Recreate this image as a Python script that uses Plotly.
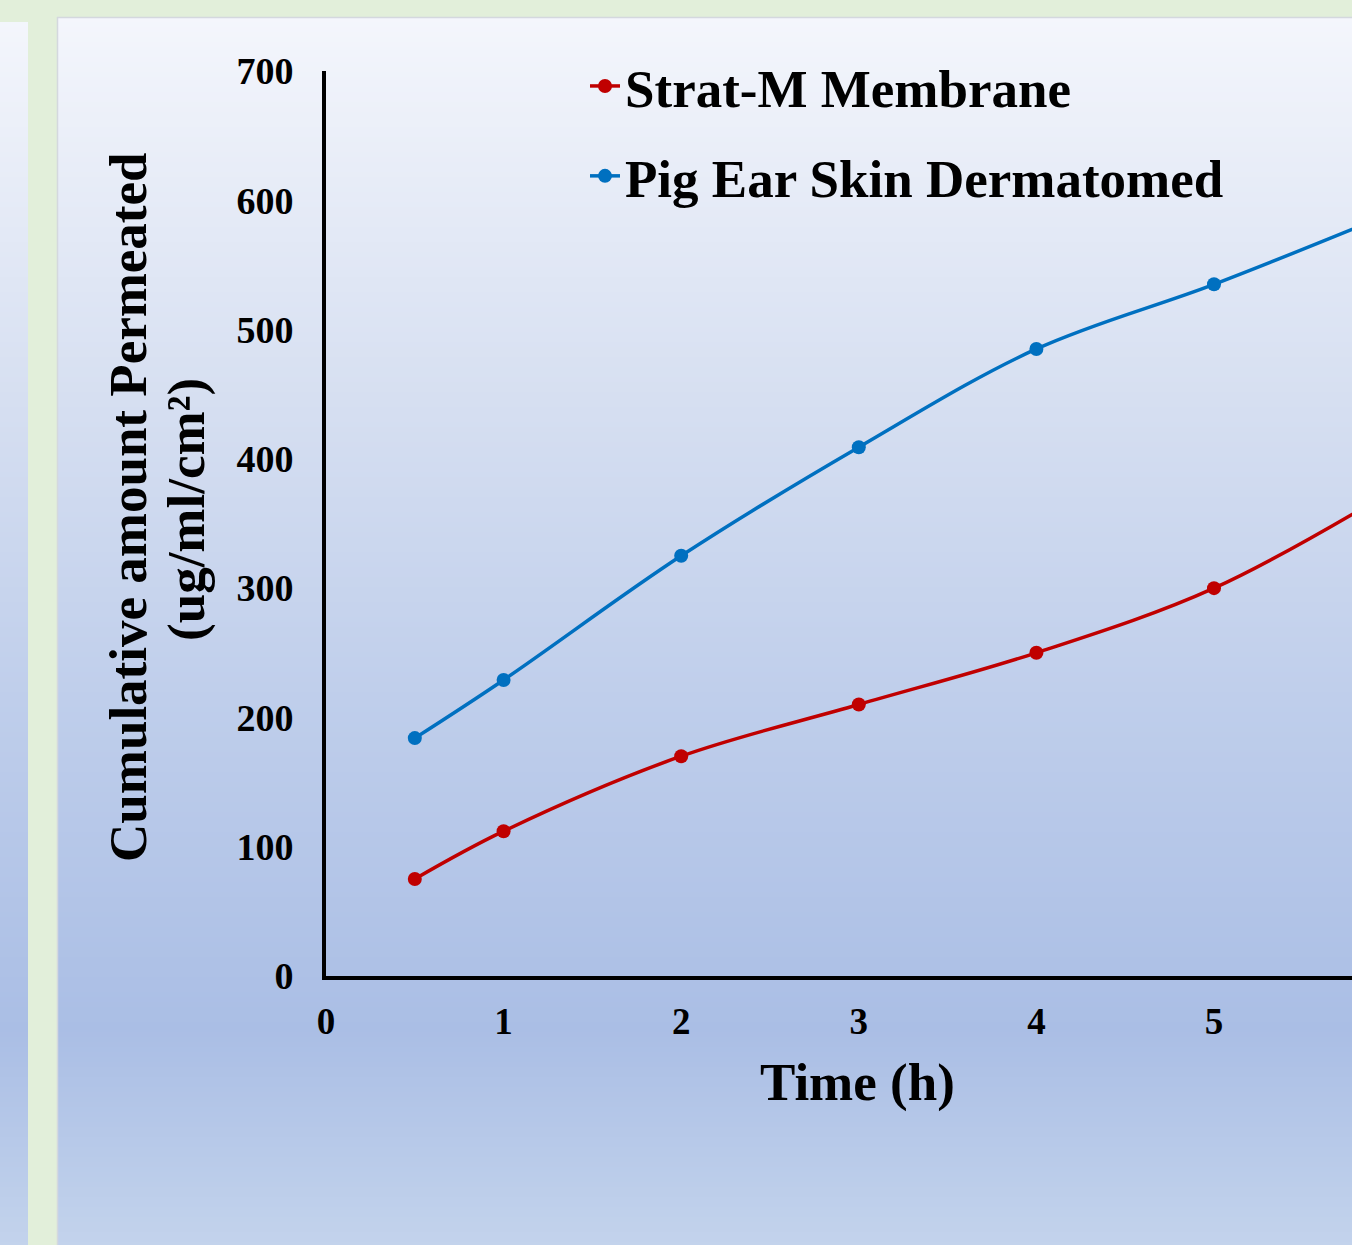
import plotly.graph_objects as go

# ---- data ----
time_h = [0.5, 1, 2, 3, 4, 5, 6]
strat_m = [75, 112, 170, 210, 250, 300, 375]
pig_ear = [184, 229, 325, 409, 485, 535, 590]
series_names = ["Strat-M Membrane", "Pig Ear Skin Dermatomed"]
x_ticks = [0, 1, 2, 3, 4, 5]
y_ticks = [0, 100, 200, 300, 400, 500, 600, 700]

W, H = 1352, 1245
L, R, T, B = 326, 0, 71, 269
PW, PH = W - L - R, H - T - B


def px(x):
    return (x - L) / PW


def py(y):
    return (H - B - y) / PH


def hex2rgb(h):
    h = h.lstrip("#")
    return [int(h[i:i + 2], 16) for i in (0, 2, 4)]


stops = [(17, "#F4F6FC"), (400, "#D6DFF1"), (700, "#BFCEEB"), (1030, "#AABEE5"), (1245, "#C3D3EC")]


def color_at(y):
    for (y0, c0), (y1, c1) in zip(stops[:-1], stops[1:]):
        if y0 <= y <= y1:
            t = (y - y0) / (y1 - y0)
            a, b = hex2rgb(c0), hex2rgb(c1)
            return "rgb(%d,%d,%d)" % tuple(round(a[i] + (b[i] - a[i]) * t) for i in range(3))
    return stops[-1][1] if y > stops[-1][0] else stops[0][1]


shapes = []
step = 5
y = 17
while y < H:
    shapes.append(dict(type="rect", xref="paper", yref="paper", layer="below",
                       x0=px(0), x1=px(W), y0=py(y), y1=py(min(y + step, H) + 1),
                       fillcolor=color_at(y + step / 2), line=dict(width=0)))
    y += step

green = "#E2EFDA"
shapes += [
    dict(type="rect", xref="paper", yref="paper", layer="below", x0=px(28), x1=px(57),
         y0=py(0), y1=py(H), fillcolor=green, line=dict(width=0)),
    dict(type="rect", xref="paper", yref="paper", layer="below", x0=px(0), x1=px(W),
         y0=py(0), y1=py(17), fillcolor=green, line=dict(width=0)),
    dict(type="rect", xref="paper", yref="paper", layer="below", x0=px(0), x1=px(28),
         y0=py(0), y1=py(22), fillcolor=green, line=dict(width=0)),
    dict(type="line", xref="paper", yref="paper", layer="below", x0=px(57.5), x1=px(57.5),
         y0=py(17), y1=py(H), line=dict(color="#D4D8DE", width=1.5)),
    dict(type="line", xref="paper", yref="paper", layer="below", x0=px(57), x1=px(W),
         y0=py(17.5), y1=py(17.5), line=dict(color="#D4D8DE", width=1.5)),
]

font_family = "Liberation Serif, Times New Roman, serif"

fig = go.Figure()
fig.add_trace(go.Scatter(x=time_h, y=strat_m, name=series_names[0], mode="lines+markers",
                         line=dict(color="#C00000", width=3.5, shape="spline", smoothing=1),
                         marker=dict(size=14, color="#C00000"), legendgroup="a"))
fig.add_trace(go.Scatter(x=time_h, y=pig_ear, name=series_names[1], mode="lines+markers",
                         line=dict(color="#0070C0", width=3.5, shape="spline", smoothing=1),
                         marker=dict(size=14, color="#0070C0"), legendgroup="b"))

fig.update_layout(
    width=W, height=H,
    margin=dict(l=L, r=R, t=T, b=B, pad=0),
    paper_bgcolor=green,
    plot_bgcolor="rgba(0,0,0,0)",
    shapes=shapes,
    font=dict(family=font_family, color="black"),
    showlegend=True,
    legend=dict(x=px(585), y=py(45), xanchor="left", yanchor="top",
                bgcolor="rgba(0,0,0,0)", traceorder="grouped", tracegroupgap=18,
                font=dict(size=53, family=font_family, weight="bold"), itemwidth=30),
    xaxis=dict(range=[0, (W - L) / 177.6], tickvals=x_ticks, ticktext=[str(v) for v in x_ticks],
               showgrid=False, zeroline=False, showline=True, linecolor="black", linewidth=4,
               ticks="", ticklabelstandoff=10,
               tickfont=dict(size=37, family=font_family, weight="bold")),
    yaxis=dict(range=[0, 700], tickvals=y_ticks, ticktext=[str(v) for v in y_ticks],
               showgrid=False, zeroline=False, showline=True, linecolor="black", linewidth=4,
               ticks="", ticklabelstandoff=21,
               tickfont=dict(size=38, family=font_family, weight="bold")),
    annotations=[
        dict(text="<b>Time (h)</b>", xref="paper", yref="paper", x=px(857), y=py(1082),
             xanchor="center", yanchor="middle",
             showarrow=False, font=dict(size=53, family=font_family)),
        dict(text="<b>Cumulative amount Permeated</b>", xref="paper", yref="paper",
             x=px(128), y=py(507), xanchor="center", yanchor="middle", textangle=-90,
             showarrow=False, font=dict(size=53, family=font_family)),
        dict(text="<b>(ug/ml/cm²)</b>", xref="paper", yref="paper",
             x=px(187), y=py(510), xanchor="center", yanchor="middle", textangle=-90,
             showarrow=False, font=dict(size=53, family=font_family)),
    ],
)

fig.write_html("out.html")
